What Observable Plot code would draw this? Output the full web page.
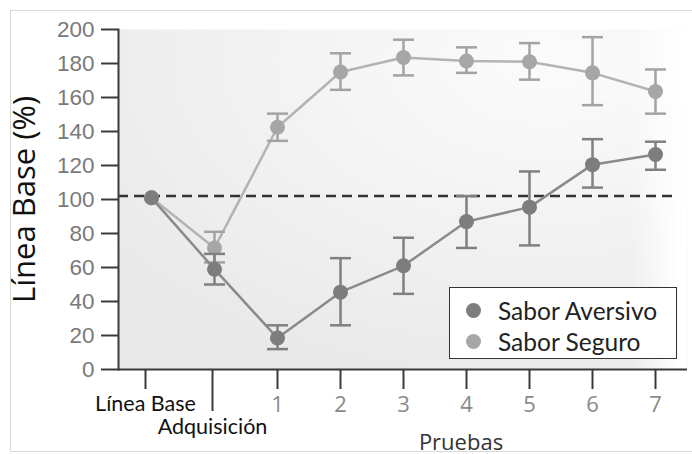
<!DOCTYPE html>
<html>
<head>
<meta charset="utf-8">
<script src="https://cdn.jsdelivr.net/npm/d3@7"></script>
<script src="https://cdn.jsdelivr.net/npm/@observablehq/plot@0.6"></script>
<style>
  html, body { margin: 0; padding: 0; background: #fff; width: 692px; height: 454px; overflow: hidden; }
  #wrap { position: relative; width: 692px; height: 454px; }
  #border { position: absolute; left: 10px; top: 10px; width: 700px; height: 440px; border: 1px solid #d8d8d8; pointer-events: none; }
  #chart { position: absolute; left: 0; top: 0; }
  #legend { position: absolute; left: 449px; top: 287px; width: 228px; height: 72px; border: 1.5px solid #333; background: #fff; box-sizing: border-box;
    font-family: Lato, "Open Sans", sans-serif; font-size: 24.5px; color: #222; }
  .row { position: absolute; left: 0; height: 30px; display: flex; align-items: center; }
  .sw { width: 15px; height: 15px; border-radius: 50%; margin-left: 16px; margin-right: 17px; }
</style>
</head>
<body>
<div id="wrap">
  <div id="border"></div>
  <div id="chart"></div>
  <div id="legend">
    <div class="row" style="top:7px"><span class="sw" style="background:#7d7d7d"></span><span>Sabor Aversivo</span></div>
    <div class="row" style="top:38px"><span class="sw" style="background:#a6a6a6"></span><span>Sabor Seguro</span></div>
  </div>
</div>
<script>
const categories = ["Línea Base", "Adquisición", "1", "2", "3", "4", "5", "6", "7"];
const numericTicks = ["1", "2", "3", "4", "5", "6", "7"];
const yTicks = [0, 20, 40, 60, 80, 100, 120, 140, 160, 180, 200];
const referenceLine = [102];

const aversivoMean = [101, 59, 18.5, 45.5, 61, 87, 95.5, 120.5, 126.5];
const aversivoLow  = [null, 50, 12, 26, 44.5, 71.5, 73, 107, 117.5];
const aversivoHigh = [null, 68, 26, 65.5, 77.5, 102, 116.5, 135.5, 134];

const seguroMean = [101, 71.5, 142.5, 175, 183.5, 181.5, 181, 174.5, 163.5];
const seguroLow  = [null, 63, 134.5, 164.5, 173, 174.5, 170.5, 155.5, 150.5];
const seguroHigh = [null, 81, 150.5, 186, 194, 189.5, 192, 195.5, 176.5];

function rows(mean, low, high) {
  return categories.map((c, i) => ({cat: c, mean: mean[i], low: low[i], high: high[i]}));
}
const aversivo = rows(aversivoMean, aversivoLow, aversivoHigh);
const seguro = rows(seguroMean, seguroLow, seguroHigh);

// horizontal cap symbol for error bars
const capSymbol = {draw(context) { context.moveTo(-10.5, 0); context.lineTo(10.5, 0); }};

const seriesStyle = [
  {data: seguro, line: "#b3b3b3", err: "#a3a3a3", dot: "#a6a6a6"},
  {data: aversivo, line: "#8a8a8a", err: "#808080", dot: "#7d7d7d"}
];

const seriesMarks = seriesStyle.flatMap(s => {
  const withErr = s.data.filter(d => d.low != null);
  return [
    Plot.line(s.data, {x: "cat", y: "mean", stroke: s.line, strokeWidth: 2.5}),
    Plot.ruleX(withErr, {x: "cat", y1: "low", y2: "high", stroke: s.err, strokeWidth: 2.5}),
    Plot.dot(withErr, {x: "cat", y: "low", symbol: capSymbol, fill: "none", stroke: s.err, strokeWidth: 2.5}),
    Plot.dot(withErr, {x: "cat", y: "high", symbol: capSymbol, fill: "none", stroke: s.err, strokeWidth: 2.5}),
    Plot.dot(s.data, {x: "cat", y: "mean", r: 7.5, fill: s.dot, stroke: "none"})
  ];
});

const plot = Plot.plot({
  width: 692,
  height: 454,
  marginLeft: 118,
  marginRight: 5,
  marginTop: 29,
  marginBottom: 85,
  style: {background: "transparent", overflow: "visible"},
  x: {type: "point", domain: categories, padding: 0.473, axis: null},
  y: {domain: [0, 200], axis: null},
  marks: [
    Plot.frame({fill: "url(#bg)", stroke: null}),
    Plot.frame({fill: "url(#fade)", stroke: null}),
    Plot.ruleY(referenceLine, {stroke: "#333", strokeWidth: 2.5, strokeDasharray: "10,6", insetRight: 14}),
    Plot.ruleY([0], {stroke: "#3a3a3a", strokeWidth: 2}),
    Plot.frame({anchor: "left", stroke: "#3a3a3a", strokeWidth: 2}),
    Plot.axisY({ticks: yTicks, tickSize: 17, tickPadding: 7, stroke: "#3a3a3a", strokeWidth: 2,
      fill: "#7a7a7a", fontSize: 22.5, fontFamily: "'Liberation Sans', Arial, sans-serif", label: null}),
    Plot.axisX({ticks: numericTicks, tickSize: 20, tickPadding: 7, stroke: "#3a3a3a", strokeWidth: 2,
      fill: "#8a8a8a", fontSize: 22, fontFamily: "'Open Sans', sans-serif", label: null}),
    Plot.axisX({ticks: ["Línea Base"], tickSize: 20, tickPadding: 6, stroke: "#3a3a3a", strokeWidth: 2, dx: -6,
      fill: "#111", fontSize: 21.5, fontFamily: "Lato, sans-serif", label: null}),
    Plot.axisX({ticks: ["Adquisición"], tickSize: 42, tickPadding: 7, stroke: "#3a3a3a", strokeWidth: 2, dx: -2,
      fill: "#111", fontSize: 21.5, fontFamily: "Lato, sans-serif", label: null}),
    ...seriesMarks,
    Plot.text(["Línea Base (%)"], {frameAnchor: "left", textAnchor: "middle", rotate: -90, dx: -93, fontSize: 31,
      fontFamily: "'Open Sans', sans-serif", fill: "#111"}),
    Plot.text(["Pruebas"], {frameAnchor: "bottom", textAnchor: "middle", dx: 58, dy: 80, fontSize: 22,
      fontFamily: "'Open Sans', sans-serif", fill: "#333"})
  ]
});

const svg = d3.select(plot);
const defs = svg.insert("defs", ":first-child");
const rg = defs.append("radialGradient").attr("id", "bg").attr("cx", "0.75").attr("cy", "0.1").attr("r", "1.0");
rg.append("stop").attr("offset", "0").attr("stop-color", "#fbfbfb");
rg.append("stop").attr("offset", "0.5").attr("stop-color", "#f2f2f2");
rg.append("stop").attr("offset", "1").attr("stop-color", "#e8e8e8");
const lg = defs.append("linearGradient").attr("id", "fade").attr("x1", "0").attr("x2", "1").attr("y1", "0").attr("y2", "0");
lg.append("stop").attr("offset", "0.9").attr("stop-color", "#ffffff").attr("stop-opacity", "0");
lg.append("stop").attr("offset", "0.985").attr("stop-color", "#ffffff").attr("stop-opacity", "1");
lg.append("stop").attr("offset", "1").attr("stop-color", "#ffffff").attr("stop-opacity", "1");

document.getElementById("chart").appendChild(plot);
</script>
</body>
</html>
